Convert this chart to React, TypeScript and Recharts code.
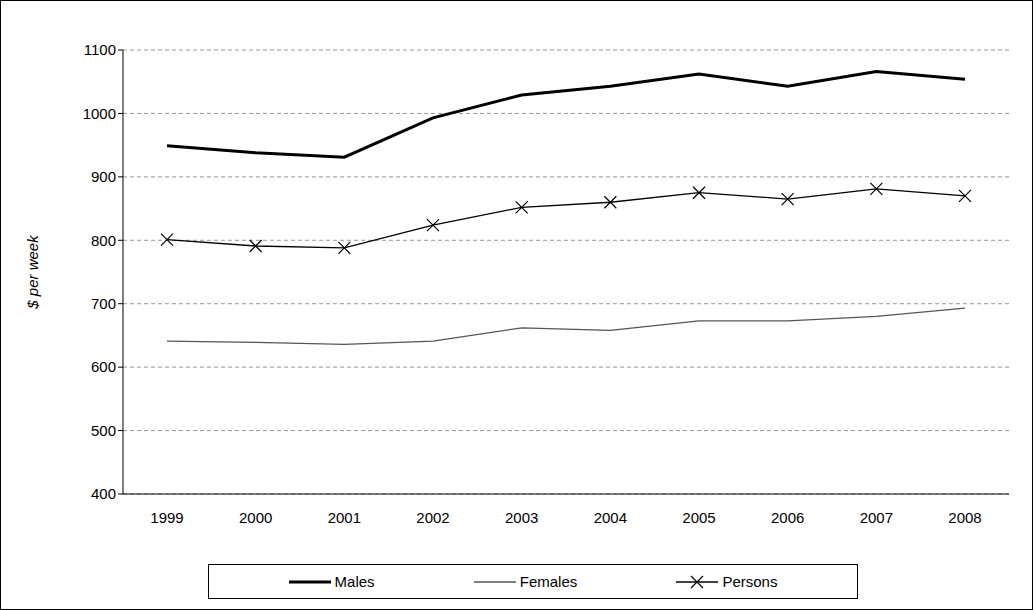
import { LineChart, Line, XAxis, YAxis, CartesianGrid, Legend } from "recharts";

const years = ["1999", "2000", "2001", "2002", "2003", "2004", "2005", "2006", "2007", "2008"];
const males = [949, 938, 931, 993, 1029, 1043, 1062, 1043, 1066, 1054];
const females = [641, 639, 636, 641, 662, 658, 673, 673, 680, 693];
const persons = [801, 791, 788, 824, 852, 860, 875, 865, 881, 870];
const yTicks = [400, 500, 600, 700, 800, 900, 1000, 1100];
const seriesNames = ["Males", "Females", "Persons"];

const data = years.map((year, i) => ({
  year,
  Males: males[i],
  Females: females[i],
  Persons: persons[i],
}));

const Cross = (props: any) => {
  const { cx, cy } = props;
  if (cx == null || cy == null) return null;
  const s = 6;
  return (
    <path
      d={`M${cx - s},${cy - s}L${cx + s},${cy + s}M${cx - s},${cy + s}L${cx + s},${cy - s}`}
      stroke="#000"
      strokeWidth={1.2}
      fill="none"
    />
  );
};

const LegendIcon = ({ name }: { name: string }) => (
  <svg width={42} height={14} style={{ verticalAlign: "middle", marginRight: 4 }}>
    <line
      x1={0}
      x2={42}
      y1={7}
      y2={7}
      stroke={name === "Females" ? "#555" : "#000"}
      strokeWidth={name === "Males" ? 3 : 1.3}
    />
    {name === "Persons" && <path d="M15,1L27,13M15,13L27,1" stroke="#000" strokeWidth={1.2} />}
  </svg>
);

const renderLegend = () => (
  <div
    style={{
      display: "flex",
      justifyContent: "space-around",
      alignItems: "center",
      height: "100%",
      padding: "0 30px",
      fontSize: 15,
      color: "#000",
    }}
  >
    {seriesNames.map((n) => (
      <span key={n} style={{ display: "flex", alignItems: "center" }}>
        <LegendIcon name={n} />
        {n}
      </span>
    ))}
  </div>
);

const App = () => {
  return (
    <div
      style={{
        position: "absolute",
        left: 0,
        top: 0,
        width: 1031,
        height: 608,
        border: "1px solid #000",
        background: "#fff",
        fontFamily: "Liberation Sans, Arial, sans-serif",
      }}
    >
      <LineChart
        width={1031}
        height={608}
        data={data}
        margin={{ top: 49, right: 23, bottom: 25, left: 60 }}
      >
        <CartesianGrid vertical={false} stroke="#999" strokeDasharray="4 3" />
        <XAxis
          dataKey="year"
          padding={{ left: 44, right: 44 }}
          stroke="#000"
          tickLine={false}
          tick={{ fill: "#000", fontSize: 15 }}
          tickMargin={12}
          height={55}
        />
        <YAxis
          domain={[400, 1100]}
          ticks={yTicks}
          stroke="#000"
          tickSize={5}
          tick={{ fill: "#000", fontSize: 15 }}
          width={62}
          label={{
            value: "$ per week",
            angle: -90,
            position: "insideLeft",
            offset: -28,
            style: { fontStyle: "italic", fontSize: 15, fill: "#000", textAnchor: "middle" },
          }}
        />
        <Legend
          verticalAlign="bottom"
          content={renderLegend}
          wrapperStyle={{
            left: 207,
            width: 650,
            bottom: 10,
            height: 35,
            border: "1px solid #000",
            boxSizing: "border-box",
          }}
        />
        <Line dataKey="Males" stroke="#000" strokeWidth={3} dot={false} isAnimationActive={false} />
        <Line dataKey="Females" stroke="#555" strokeWidth={1.3} dot={false} isAnimationActive={false} />
        <Line dataKey="Persons" stroke="#000" strokeWidth={1.3} dot={<Cross />} isAnimationActive={false} />
      </LineChart>
    </div>
  );
};

export default App;
